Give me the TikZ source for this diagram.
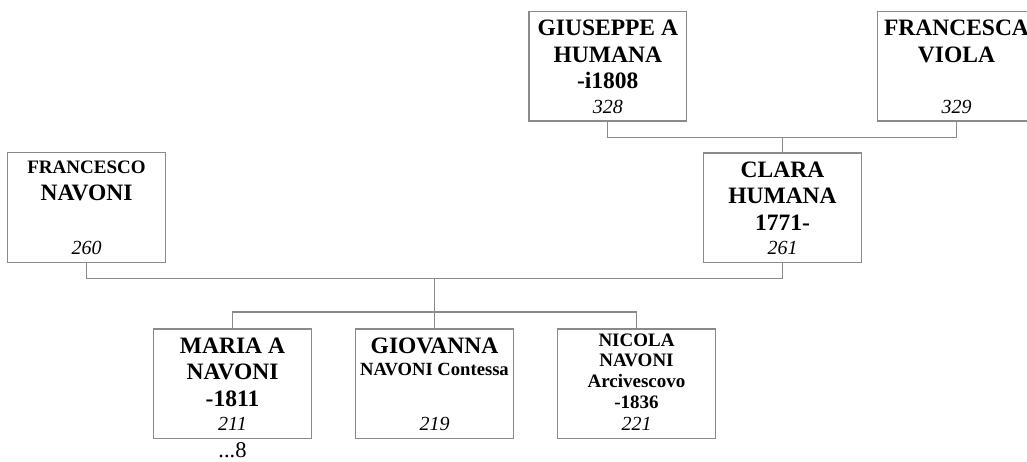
\documentclass[tikz,border=0pt]{standalone}
\usepackage{fontspec}
\setmainfont{Liberation Serif}
\usetikzlibrary{positioning,calc}
\definecolor{Gc}{HTML}{8A8A8A}
\tikzset{
  pbox/.style={rectangle, draw=Gc, line width=1.2pt, minimum width=157.5pt, minimum height=109.5pt, inner sep=0pt},
  nm/.style={font=\fontsize{23.5}{26.6}\selectfont\bfseries, align=center, inner sep=0pt, anchor=north},
  sm/.style={font=\fontsize{19}{20.7}\selectfont\bfseries},
  idn/.style={font=\fontsize{20}{24}\selectfont\itshape, inner sep=0pt, anchor=base},
  link/.style={draw=Gc, line width=1.2pt},
}
% #2 = node name, #3 = centre, #4 = name lines, #5 = number
\newcommand{\pers}[5][]{%
  \node[pbox] (#2) at #3 {};
  \node[nm, #1] (#2n) at ([yshift=-9pt]#2.north) {#4};
  \node[idn] (#2i) at ([yshift=8.5pt]#2.south) {#5};}

\begin{document}
\begin{tikzpicture}[x=1pt, y=-1pt]
  \useasboundingbox (0,0) rectangle (1027,461);
  \pers{giuseppe}{(607.8,66.2)}{GIUSEPPE A\\HUMANA\\-i1808}{328}
  \pers{francesca}{(956.5,66.2)}{FRANCESCA\\VIOLA}{329}
  \pers{clara}{(782.5,207.8)}{CLARA\\HUMANA\\1771-}{261}
  \pers{francesco}{(86.5,207.5)}{{\fontsize{19}{26.6}\selectfont FRANCESCO}\\NAVONI}{260}
  \pers{maria}{(232.5,383.7)}{MARIA A\\NAVONI\\-1811}{211}
  \pers{giovanna}{(434.5,383.7)}{GIOVANNA\\[-4.5pt]{\fontsize{18.6}{22}\selectfont NAVONI Contessa}}{219}
  \pers[sm, yshift=4pt]{nicola}{(636.5,383.7)}{NICOLA\\NAVONI\\Arcivescovo\\-1836}{221}
  \node[font=\fontsize{22.5}{24}\selectfont, anchor=base, inner sep=0pt] (more) at (maria.south |- 0,457) {...8};
  % couples and children
  \draw[link] (giuseppe.south) -- ++(0,16) coordinate (g1) -| (francesca.south);
  \draw[link] (clara.north |- g1) -- (clara.north);
  \draw[link] (francesco.south) -- ++(0,15.5) coordinate (f1) -| (clara.south);
  \draw[link] (giovanna.north |- f1) -- (giovanna.north);
  \draw[link] (maria.north) -- ++(0,-16.3) -| (nicola.north);
\end{tikzpicture}
\end{document}
